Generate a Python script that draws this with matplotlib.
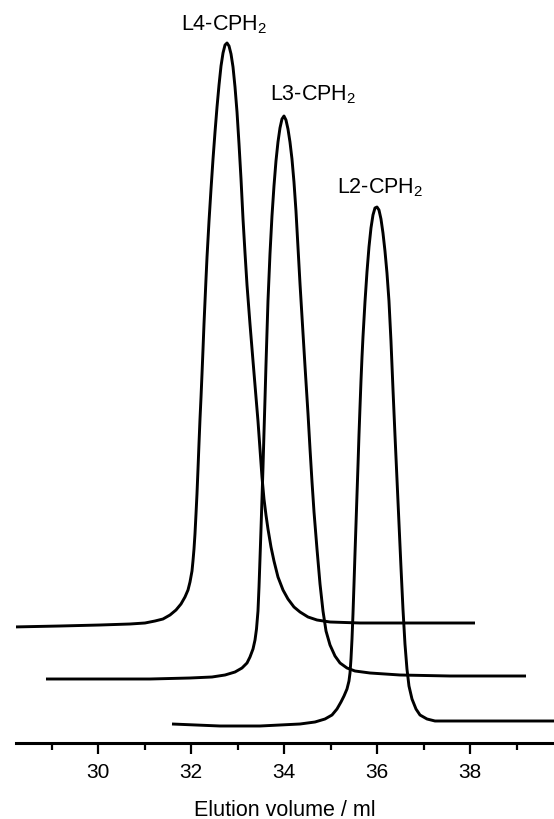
import matplotlib
matplotlib.use("Agg")
import matplotlib.pyplot as plt
from matplotlib.ticker import MultipleLocator

plt.rcParams['font.family'] = ['Liberation Sans', 'DejaVu Sans']
plt.rcParams['mathtext.default'] = 'regular'

# ---- data (elution volume in ml, signal in arbitrary units incl. trace offset) ----
l4_x = [28.144, 29.176, 30.037, 30.682, 31.004, 31.219, 31.391, 31.542, 31.671, 31.778,
        31.864, 31.929, 31.972, 32.015, 32.036, 32.058, 32.079, 32.101, 32.122, 32.144,
        32.165, 32.187, 32.209, 32.230, 32.252, 32.273, 32.295, 32.316, 32.338, 32.381,
        32.424, 32.467, 32.510, 32.553, 32.596, 32.639, 32.682, 32.725, 32.768, 32.811,
        32.854, 32.897, 32.940, 32.983, 33.026, 33.069, 33.112, 33.155, 33.198, 33.262,
        33.327, 33.391, 33.434, 33.477, 33.520, 33.563, 33.606, 33.649, 33.714, 33.778,
        33.864, 33.972, 34.079, 34.208, 34.338, 34.510, 34.703, 34.983, 35.628, 36.703,
        38.101]
l4_y = [1.16, 1.17, 1.18, 1.19, 1.20, 1.22, 1.24, 1.28, 1.33, 1.39,
        1.46, 1.53, 1.61, 1.72, 1.82, 1.94, 2.09, 2.29, 2.49, 2.74,
        2.99, 3.24, 3.46, 3.69, 3.94, 4.19, 4.42, 4.64, 4.86, 5.22,
        5.54, 5.84, 6.11, 6.36, 6.58, 6.77, 6.90, 6.98, 7.00, 6.97,
        6.89, 6.76, 6.56, 6.31, 5.99, 5.64, 5.24, 4.90, 4.58, 4.19,
        3.82, 3.46, 3.22, 2.94, 2.66, 2.44, 2.28, 2.14, 1.96, 1.82,
        1.66, 1.53, 1.44, 1.36, 1.31, 1.26, 1.23, 1.21, 1.20, 1.20,
        1.20]

l3_x = [28.875, 30.037, 31.112, 31.972, 32.445, 32.725, 32.940, 33.090, 33.198, 33.262,
        33.327, 33.370, 33.402, 33.434, 33.456, 33.477, 33.499, 33.520, 33.542, 33.563,
        33.585, 33.606, 33.628, 33.649, 33.692, 33.735, 33.778, 33.821, 33.864, 33.907,
        33.950, 33.993, 34.036, 34.079, 34.122, 34.165, 34.208, 34.251, 34.294, 34.338,
        34.381, 34.445, 34.510, 34.553, 34.596, 34.639, 34.703, 34.768, 34.832, 34.897,
        34.983, 35.090, 35.198, 35.348, 35.520, 35.843, 36.488, 37.563, 39.198]
l3_y = [0.64, 0.64, 0.64, 0.65, 0.66, 0.68, 0.71, 0.75, 0.80, 0.86,
        0.94, 1.03, 1.14, 1.32, 1.56, 1.84, 2.14, 2.44, 2.76, 3.10,
        3.44, 3.78, 4.11, 4.42, 4.89, 5.27, 5.57, 5.82, 6.01, 6.15,
        6.24, 6.27, 6.23, 6.14, 6.01, 5.84, 5.61, 5.32, 4.96, 4.59,
        4.26, 3.77, 3.29, 2.94, 2.61, 2.31, 1.94, 1.59, 1.32, 1.12,
        0.98, 0.87, 0.80, 0.75, 0.72, 0.70, 0.68, 0.67, 0.67]

l2_x = [31.585, 32.617, 33.477, 34.338, 34.660, 34.875, 35.026, 35.133, 35.219, 35.284,
        35.348, 35.391, 35.413, 35.434, 35.456, 35.477, 35.499, 35.520, 35.542, 35.563,
        35.585, 35.606, 35.628, 35.649, 35.671, 35.692, 35.735, 35.778, 35.821, 35.864,
        35.907, 35.950, 35.993, 36.036, 36.079, 36.122, 36.165, 36.208, 36.251, 36.294,
        36.337, 36.380, 36.423, 36.466, 36.509, 36.552, 36.595, 36.638, 36.681, 36.746,
        36.832, 36.918, 37.069, 37.241, 38.208, 39.800]
l2_y = [0.19, 0.17, 0.17, 0.19, 0.21, 0.24, 0.28, 0.34, 0.41, 0.47,
        0.54, 0.62, 0.70, 0.84, 1.04, 1.29, 1.59, 1.89, 2.19, 2.48,
        2.78, 3.08, 3.36, 3.62, 3.86, 4.06, 4.41, 4.71, 4.96, 5.15,
        5.28, 5.35, 5.36, 5.33, 5.24, 5.10, 4.92, 4.70, 4.42, 4.02,
        3.54, 3.08, 2.64, 2.20, 1.76, 1.34, 0.99, 0.74, 0.57, 0.44,
        0.34, 0.28, 0.24, 0.22, 0.22, 0.22]

labels = ['L4-CPH$_2$', 'L3-CPH$_2$', 'L2-CPH$_2$']
major_ticks = [30, 32, 34, 36, 38]

fig = plt.figure(figsize=(5.54, 8.2), dpi=100)
ax = fig.add_axes([16 / 554, 1 - 744 / 820, 1 - 16 / 554, 744 / 820])

for xs, ys in [(l4_x, l4_y), (l3_x, l3_y), (l2_x, l2_y)]:
    ax.plot(xs, ys, color='black', lw=2.1, solid_joinstyle='round', solid_capstyle='butt')

label_pos = [(32.70, 7.19), (34.62, 6.49), (36.06, 5.56)]
for txt, (lx, ly) in zip(labels, label_pos):
    ax.text(lx, ly, txt, ha='center', va='center', fontsize=15.5)

ax.set_xlim(28.23, 39.80)
ax.set_ylim(0, 7.44)
ax.set_xticks(major_ticks)
ax.xaxis.set_minor_locator(MultipleLocator(1))
ax.tick_params(axis='x', which='major', direction='out', length=8, width=1.6,
               labelsize=15, pad=6)
ax.tick_params(axis='x', which='minor', direction='out', length=5, width=1.6)
ax.set_yticks([])
for s in ['top', 'right', 'left']:
    ax.spines[s].set_visible(False)
ax.spines['bottom'].set_linewidth(2.2)
ax.set_xlabel('Elution volume / ml', fontsize=15.5, labelpad=13)

fig.savefig('out.png', dpi=100)
